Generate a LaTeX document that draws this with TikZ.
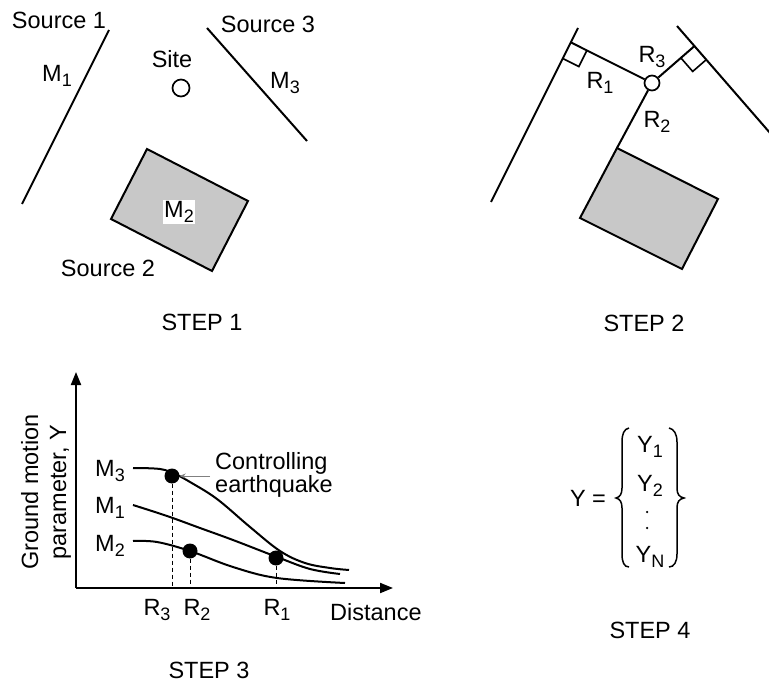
\documentclass[tikz,border=0pt]{standalone}
\usepackage{fontspec}
\setmainfont{Liberation Sans}
\usetikzlibrary{arrows.meta,calc}
\newcommand\sbs[1]{\raisebox{-0.4ex}{\fontsize{18}{18}\selectfont #1}}
\begin{document}
\begin{tikzpicture}[x=1pt,y=-1pt,
  lbl/.style={font=\fontsize{23.5}{23.5}\selectfont, inner sep=0pt},
  ln/.style={line width=2pt},
  thin line/.style={line width=1.6pt},
  sitec/.style={circle, draw, line width=1.7pt, minimum size=17pt, inner sep=0pt},
  dot/.style={circle, fill=black, minimum size=15pt, inner sep=0pt},
  smalldot/.style={circle, fill=black, minimum size=2.5pt, inner sep=0pt},
  dsh/.style={line width=1pt, dash pattern=on 4pt off 3pt},
  srcfill/.style={fill={rgb,255:red,200;green,200;blue,200}, draw, line width=2pt, line join=miter}
]
\useasboundingbox (0,0) rectangle (769,687);

% ---------------- STEP 1 ----------------
\coordinate (s1a) at (109,30);
\coordinate (s1b) at (22,204);
\coordinate (s3a) at (207,28);
\coordinate (s3b) at (307,141);
\draw[ln] (s1a) -- (s1b);
\draw[ln] (s3a) -- (s3b);
\coordinate (r1) at (147,149);
\coordinate (r2) at (248,201);
\coordinate (r3) at (212,271);
\coordinate (r4) at (111,219);
\draw[srcfill] (r1) -- (r2) -- (r3) -- (r4) -- cycle;
\node[sitec] (site) at (181,88) {};
\node[lbl] (src1) at (59,20) {Source 1};
\node[lbl] (src3) at (268,24) {Source 3};
\node[lbl] (src2) at (108,268) {Source 2};
\node[lbl] (sitel) at (172,59) {Site};
\node[lbl] (m1) at (57,76) {M\sbs{1}};
\node[lbl] (m3) at (285,83) {M\sbs{3}};
\node[lbl, fill=white, inner sep=1pt] (m2) at (179,212) {M\sbs{2}};
\node[lbl] (step1) at (202,322) {STEP 1};

% ---------------- STEP 2 ----------------
\coordinate (t1a) at (578,28);
\coordinate (t1b) at (491,202);
\coordinate (t3a) at (677,26);
\coordinate (t3b) at (777,141);
\draw[ln] (t1a) -- (t1b);
\draw[ln] (t3a) -- (t3b);
\coordinate (q1) at (617,148);
\coordinate (q2) at (718,199);
\coordinate (q3) at (682,269);
\coordinate (q4) at (580,218);
\draw[srcfill] (q1) -- (q2) -- (q3) -- (q4) -- cycle;
\node[sitec, minimum size=15pt] (site2) at (652,83) {};
\coordinate (f1) at ($(t1a)!(site2.center)!(t1b)$);
\coordinate (f3) at ($(t3a)!(site2.center)!(t3b)$);
\draw[ln] (site2) -- (f1);
\draw[ln] (site2) -- (f3);
\draw[ln] (site2) -- (q1);
% right angle markers
\coordinate (p1) at ($(f1)!18pt!(site2.center)$);
\coordinate (p2) at ($(f1)!18pt!(t1b)$);
\draw[thin line] (p1) -- ($(p1)+(p2)-(f1)$) -- (p2);
\coordinate (p3) at ($(f3)!18pt!(site2.center)$);
\coordinate (p4) at ($(f3)!18pt!(t3b)$);
\draw[thin line] (p3) -- ($(p3)+(p4)-(f3)$) -- (p4);
\node[lbl] (R3l) at (652,57) {R\sbs{3}};
\node[lbl] (R1l) at (600,83) {R\sbs{1}};
\node[lbl] (R2l) at (657,122) {R\sbs{2}};
\node[lbl] (step2) at (644,323) {STEP 2};

% ---------------- STEP 3 ----------------
\coordinate (o) at (76,588);
\coordinate (ytip) at (76,372);
\coordinate (xtip) at (393,588);
\draw[ln, -{Triangle[length=13pt,width=10pt]}] (o) -- (ytip);
\draw[ln, -{Triangle[length=13pt,width=10pt]}] (o) -- (xtip);
\node[lbl, rotate=90, align=center, font=\fontsize{23.5}{28}\selectfont] (ylab) at (46,492) {Ground motion\\parameter, Y};
\draw[ln] plot[smooth, tension=0.6] coordinates {(133,468) (160,469) (175,474) (190,482) (217,499) (250,527) (280,551) (305,563) (330,568) (349,570)};
\draw[ln] plot[smooth, tension=0.6] coordinates {(133,505) (167,516) (200,528) (233,540) (277,557) (310,569) (340,574)};
\draw[ln] plot[smooth, tension=0.6] coordinates {(133,541) (157,542) (190,551) (233,567) (277,578) (345,583)};
\node[dot] (d3) at (172,476) {};
\node[dot] (d2) at (190,551) {};
\node[dot] (d1) at (276,558) {};
\draw[dsh] (d3) -- (d3 |- o);
\draw[dsh] (d2) -- (d2 |- o);
\draw[dsh] (d1.south) -- (d1 |- o);
\node[lbl] (M3) at (110,471) {M\sbs{3}};
\node[lbl] (M1) at (110,508) {M\sbs{1}};
\node[lbl] (M2) at (110,546) {M\sbs{2}};
\node[lbl] (xR3) at (157,610) {R\sbs{3}};
\node[lbl] (xR2) at (197,610) {R\sbs{2}};
\node[lbl] (xR1) at (277,610) {R\sbs{1}};
\node[lbl, anchor=west] (dist) at (330,612) {Distance};
\node[lbl, align=left, anchor=west] (ctl) at (215,475) {Controlling\\earthquake};
\coordinate (ctlw) at ($(ctl.west)+(-5,1)$);
\draw[gray, line width=0.7pt, -{Stealth[length=6pt,width=5pt]}] (ctlw) -- (d3);
\node[lbl] (step3) at (209,670) {STEP 3};

% ---------------- STEP 4 ----------------
\node[lbl] (yeq) at (588,498) {Y =};
\draw[line width=1.5pt] (629,428) .. controls (624,429) and (622,434) .. (622,442) -- (622,488) .. controls (622,494) and (620,497) .. (616,498) .. controls (620,499) and (622,502) .. (622,508) -- (622,554) .. controls (622,562) and (624,567) .. (629,567);
\draw[line width=1.5pt] (669,428) .. controls (674,429) and (677,434) .. (677,442) -- (677,488) .. controls (677,494) and (679,497) .. (684,498) .. controls (679,499) and (677,502) .. (677,508) -- (677,554) .. controls (677,562) and (674,567) .. (669,567);
\node[lbl] (Y1) at (650,447) {Y\sbs{1}};
\node[lbl] (Y2) at (650,486) {Y\sbs{2}};
\node[smalldot] (yd1) at (647,512) {};
\node[smalldot] (yd2) at (647,528) {};
\node[lbl] (YN) at (650,557) {Y\sbs{N}};
\node[lbl] (step4) at (650,630) {STEP 4};
\end{tikzpicture}
\end{document}
